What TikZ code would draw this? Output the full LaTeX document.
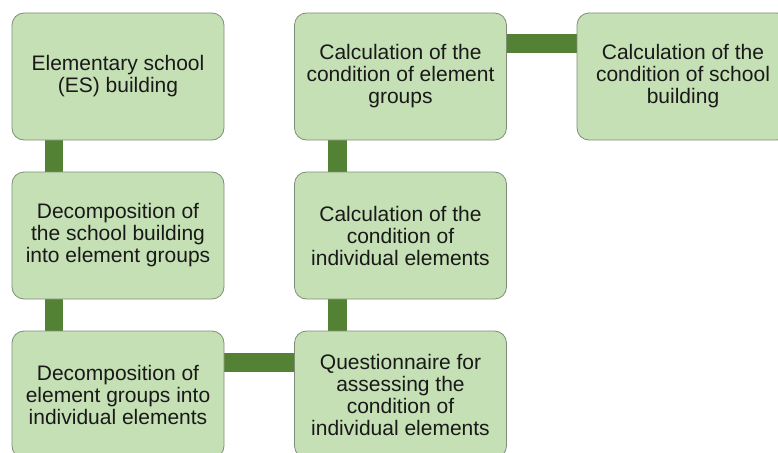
\documentclass[tikz,border=0pt]{standalone}
\usepackage{fontspec}
\setmainfont{Liberation Sans}
\usetikzlibrary{backgrounds}
\definecolor{boxfill}{HTML}{C5E0B4}
\definecolor{boxline}{HTML}{7E8E76}
\definecolor{connc}{HTML}{548235}
\begin{document}
\begin{tikzpicture}[x=1pt,y=-1pt,
  box/.style={draw=boxline, fill=boxfill, rounded corners=12pt, minimum width=212pt, minimum height=127pt, inner sep=0pt, align=center, font=\fontsize{21}{22}\selectfont, line width=0.8pt, text=black!90},
  link/.style={draw=connc, line width=18.5pt}]
\useasboundingbox (0,0) rectangle (778,452);
\clip (0,0) rectangle (778,452);
\node[box] (b1) at (118,76.5) {Elementary school\\(ES) building};
\node[box] (b2) at (118,235.5) {Decomposition of\\the school building\\into element groups};
\node[box] (b3) at (118,394.5) {Decomposition of\\element groups into\\individual elements};
\node[box] (b4) at (400.5,76.5) {Calculation of the\\condition of element\\groups};
\node[box] (b5) at (400.5,235.5) {Calculation of the\\condition of\\individual elements};
\node[box] (b6) at (400.5,394.5) {Questionnaire for\\assessing the\\condition of\\individual elements};
\node[box] (b7) at (683,76.5) {Calculation of the\\condition of school\\building};
\begin{scope}[on background layer]
\draw[link] ([xshift=42.5pt]b1.south west) -- ([xshift=42.5pt]b2.north west);
\draw[link] ([xshift=42.5pt]b2.south west) -- ([xshift=42.5pt]b3.north west);
\draw[link] ([yshift=-32pt]b3.north east) -- ([yshift=-32pt]b6.north west);
\draw[link] ([xshift=43.5pt]b6.north west) -- ([xshift=43.5pt]b5.south west);
\draw[link] ([xshift=43.5pt]b5.north west) -- ([xshift=43.5pt]b4.south west);
\draw[link] ([yshift=-31pt]b4.north east) -- ([yshift=-31pt]b7.north west);
\end{scope}
\end{tikzpicture}
\end{document}
